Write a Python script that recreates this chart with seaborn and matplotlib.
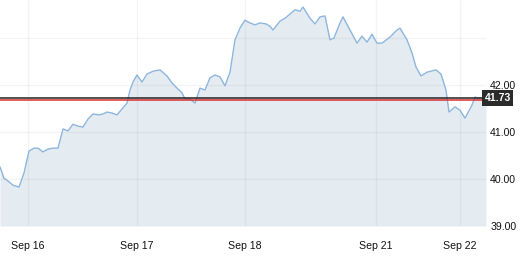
import matplotlib
matplotlib.use("Agg")
import matplotlib.pyplot as plt
import seaborn as sns
import pandas as pd

# time position (session-scaled) and price
t = [0, 4, 8, 13, 19, 24, 29, 34, 38, 43, 48, 53, 58, 63, 68, 73, 78, 83, 88, 93,
     99, 103, 107, 112, 117, 121, 127, 130, 133, 137, 142, 147, 153, 160, 167, 172,
     178, 182, 185, 190, 195, 200, 205, 210, 215, 220, 225, 230, 235, 240, 245, 250,
     255, 260, 266, 270, 273, 280, 285, 290, 295, 300, 303, 310, 315, 320, 325, 330,
     334, 340, 343, 350, 357, 362, 367, 372, 377, 382, 390, 397, 400, 407, 412, 416,
     421, 427, 436, 441, 446, 449, 455, 460, 465, 472, 475, 478, 486]
price = [40.26, 40.02, 39.96, 39.87, 39.83, 40.13, 40.60, 40.66, 40.66, 40.58, 40.64,
         40.66, 40.66, 41.07, 41.03, 41.17, 41.13, 41.11, 41.28, 41.39, 41.37, 41.39,
         41.43, 41.41, 41.37, 41.47, 41.62, 41.90, 42.07, 42.22, 42.07, 42.24, 42.30,
         42.33, 42.20, 42.05, 41.92, 41.84, 41.71, 41.71, 41.62, 41.94, 41.90, 42.16,
         42.22, 42.18, 41.99, 42.28, 42.97, 43.22, 43.39, 43.33, 43.29, 43.33, 43.31,
         43.26, 43.18, 43.37, 43.43, 43.52, 43.61, 43.58, 43.67, 43.43, 43.31, 43.46,
         43.48, 42.97, 43.01, 43.33, 43.46, 43.18, 42.90, 43.05, 42.92, 43.09, 42.90,
         42.90, 43.03, 43.18, 43.22, 42.97, 42.69, 42.39, 42.20, 42.28, 42.33, 42.24,
         41.90, 41.43, 41.54, 41.47, 41.30, 41.58, 41.75, 41.73, 41.73]
date_ticks = [28, 137, 245, 376, 460]
date_labels = ["Sep 16", "Sep 17", "Sep 18", "Sep 21", "Sep 22"]
y_ticks = [39, 40, 41, 42, 43]
y_labels = ["39.00", "40.00", "41.00", "42.00", ""]
last_price = 41.73
prev_close = 41.69

df = pd.DataFrame({"t": t, "price": price})

sns.set_style("white")
plt.rcParams["font.family"] = ["Liberation Sans", "DejaVu Sans"]

fig = plt.figure(figsize=(5.23, 2.57), dpi=100)
ax = fig.add_axes([0, 1 - 226 / 257, 486 / 523, 226 / 257])

ymin, ymax = 39.0, 43.82
ax.fill_between(df["t"], df["price"], ymin, color="#e4ecf2", zorder=1, linewidth=0)
sns.lineplot(data=df, x="t", y="price", ax=ax, color="#8db6de", linewidth=1.0, zorder=3)

ax.axhline(last_price, color="#222222", linewidth=1.1, zorder=4)
ax.axhline(prev_close, color="#d93030", linewidth=1.1, zorder=4)

ax.set_xlim(0, 486)
ax.set_ylim(ymin, ymax)
ax.set_xticks(date_ticks)
ax.set_xticklabels(date_labels)
ax.set_yticks(y_ticks)
ax.set_yticklabels(y_labels)
ax.yaxis.tick_right()
ax.tick_params(axis="both", length=0, labelsize=7.6, colors="#111111")
ax.tick_params(axis="x", pad=11)
ax.tick_params(axis="y", pad=3)
ax.set_xlabel("")
ax.set_ylabel("")
ax.set_axisbelow(False)
ax.grid(True, color="#000000", alpha=0.045, linewidth=1.0, zorder=2)
for s in ax.spines.values():
    s.set_visible(False)

ax.text(0.997, last_price, f"{last_price:.2f}", transform=ax.get_yaxis_transform(),
        ha="left", va="center", color="white", fontsize=7.6, fontweight="bold",
        bbox=dict(boxstyle="square,pad=0.25", facecolor="#2b2b2b", edgecolor="none"),
        zorder=5, clip_on=False)

fig.savefig("out.png", dpi=100)
